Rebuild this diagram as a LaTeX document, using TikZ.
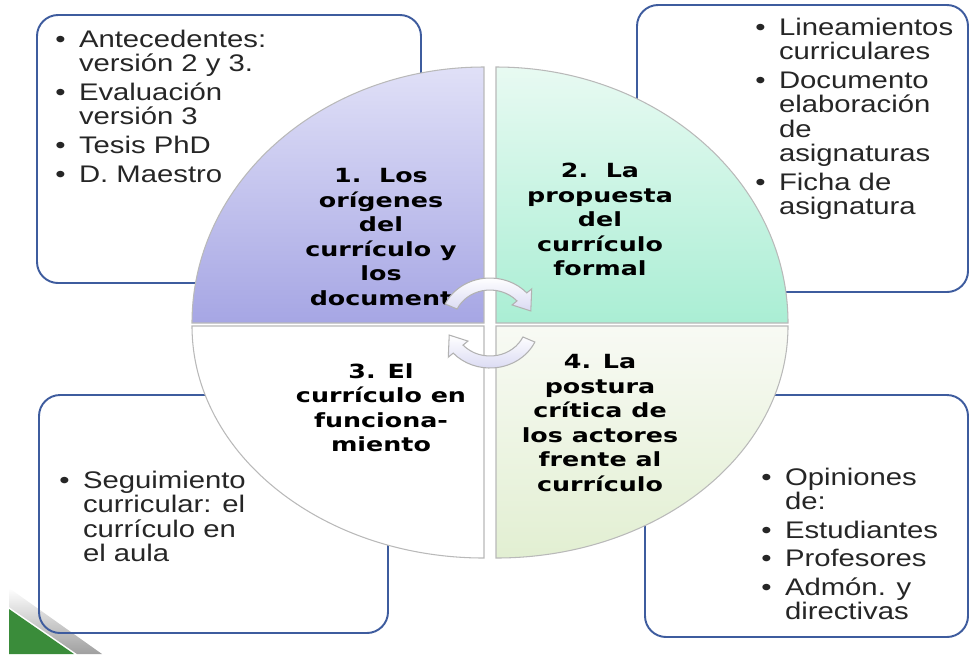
\documentclass[tikz,border=0pt]{standalone}
\usepackage{fontspec}
\setmainfont{Liberation Sans}
\newfontfamily\quadfont{DejaVu Sans}
\usepackage{tikz}

\definecolor{boxblue}{RGB}{62,92,158}
\definecolor{lilatop}{RGB}{224,224,247}
\definecolor{lilabot}{RGB}{166,166,228}
\definecolor{mintop}{RGB}{232,250,242}
\definecolor{mintbot}{RGB}{170,238,212}
\definecolor{paletop}{RGB}{248,250,244}
\definecolor{palebot}{RGB}{226,239,210}
\definecolor{arrowlila}{RGB}{218,218,243}
\definecolor{slidegreen}{RGB}{58,140,58}

\newcommand{\bul}{\makebox[11pt][l]{•}}
\newcommand{\ind}{\hspace*{11pt}}

\begin{document}
\begin{tikzpicture}[x=0.02cm, y=-0.02cm,
    box/.style={draw=boxblue, line width=1.1pt, rounded corners=12pt},
    quad/.style={draw=gray!55, line width=0.6pt},
    items/.style={anchor=north west, align=left, inner sep=0pt, xscale=1.22, text=black!85,
        font=\fontsize{13.66}{13.94}\selectfont},
    title/.style={anchor=north, align=center, inner sep=0pt, xscale=1.3,
        font=\quadfont\bfseries\fontsize{11.1}{13.94}\selectfont},
    circarrow/.style={draw=gray!60, line width=0.6pt, top color=white, bottom color=arrowlila}]

    \useasboundingbox (0,0) rectangle (969,654);

    % Slide corner
    \shade[top color=white, bottom color=gray!75] (9,588) -- (102,654) -- (77,654) -- (9,607) -- cycle;
    \fill[slidegreen] (9,609) -- (74,654) -- (9,654) -- cycle;

    % Boxes
    \draw[box] (37,15) rectangle (421,283);
    \draw[box] (637,5) rectangle (968,292);
    \draw[box] (39,395) rectangle (388,633);
    \draw[box] (645,395) rectangle (968,637);

    % Quadrants
    \shade[quad, top color=lilatop, bottom color=lilabot]
        (484,323) -- (192,323) arc[start angle=180, end angle=270, x radius=292, y radius=256] -- cycle;
    \shade[quad, top color=mintop, bottom color=mintbot]
        (496,323) -- (496,67) arc[start angle=270, end angle=360, x radius=292, y radius=256] -- cycle;
    \filldraw[quad, fill=white]
        (484,326) -- (192,326) arc[start angle=180, end angle=90, x radius=292, y radius=232] -- cycle;
    \shade[quad, top color=paletop, bottom color=palebot]
        (496,326) -- (496,558) arc[start angle=90, end angle=0, x radius=292, y radius=232] -- cycle;

    % Titles
    \node[title] (origenes) at (381,168) {1.\ \ Los\\orígenes\\del\\currículo y\\los\\document};
    \node[title] (propuesta) at (600,163) {2.\ \ La\\propuesta\\del\\currículo\\formal};
    \node[title] (funcionamiento) at (381,363) {3. El\\currículo en\\funciona-\\miento};
    \node[title] (postura) at (600,354) {4. La\\postura\\crítica de\\los actores\\frente al\\currículo};

    % Cycle arrows
    \begin{scope}[shift={(490,323)}, xscale=1.1]
        \shade[circarrow] (205:45) arc[start angle=205, end angle=318, radius=45]
            -- (318:51) -- (342:39) -- (318:27) -- (318:33)
            arc[start angle=318, end angle=205, radius=33] -- cycle;
        \shade[circarrow] (25:45) arc[start angle=25, end angle=138, radius=45]
            -- (138:51) -- (162:39) -- (138:27) -- (138:33)
            arc[start angle=138, end angle=25, radius=33] -- cycle;
    \end{scope}

    % Lists
    \node[items] (antecedentes) at (55,29.7) {\bul Antecedentes:\\ \ind versión 2 y 3.\\[2.3pt]
        \bul Evaluación\\ \ind versión 3\\[2.3pt] \bul Tesis PhD\\[2.3pt] \bul D. Maestro};
    \node[items] (lineamientos) at (755,17.7) {\bul Lineamientos\\ \ind curriculares\\[2.3pt]
        \bul Documento\\ \ind elaboración\\ \ind de\\ \ind asignaturas\\[2.3pt]
        \bul Ficha de\\ \ind asignatura};
    \node[items] (seguimiento) at (59,470.5) {\bul Seguimiento\\ \ind curricular: el\\
        \ind currículo en\\ \ind el aula};
    \node[items] (opiniones) at (761,467.5) {\bul Opiniones\\ \ind de:\\[2.3pt]
        \bul Estudiantes\\[2.3pt] \bul Profesores\\[2.3pt] \bul Admón. y\\ \ind directivas};

\end{tikzpicture}
\end{document}
